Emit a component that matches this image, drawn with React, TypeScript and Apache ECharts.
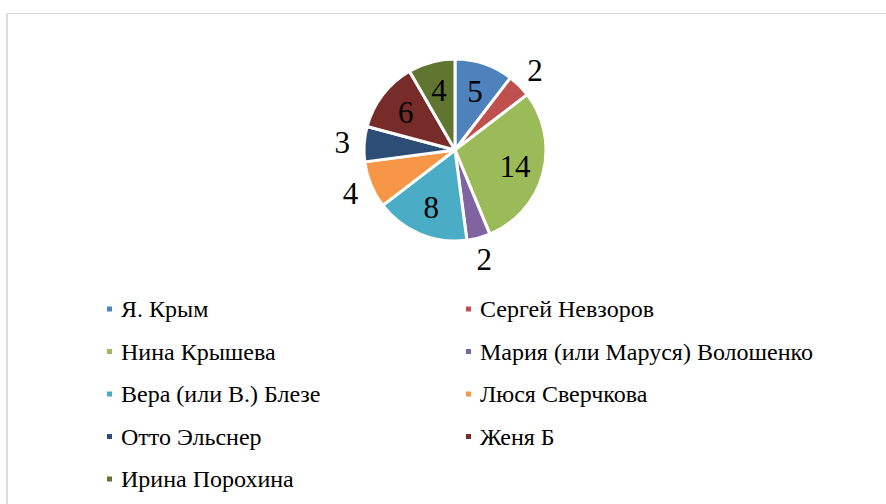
import React, { useEffect, useRef } from "react";
import * as echarts from "echarts";

const NAMES = [
  "Я. Крым",
  "Сергей Невзоров",
  "Нина Крышева",
  "Мария (или Маруся) Волошенко",
  "Вера (или В.) Блезе",
  "Люся Сверчкова",
  "Отто Эльснер",
  "Женя Б",
  "Ирина Порохина",
];
const VALUES = [5, 2, 14, 2, 8, 4, 3, 6, 4];
const COLORS = [
  "#4F81BD",
  "#C0504D",
  "#9BBB59",
  "#8064A2",
  "#4BACC6",
  "#F79646",
  "#2C4D75",
  "#772C2A",
  "#5F7530",
];
const LEFT_LEGEND = ["Я. Крым", "Нина Крышева", "Вера (или В.) Блезе", "Отто Эльснер", "Ирина Порохина"];
const RIGHT_LEGEND = ["Сергей Невзоров", "Мария (или Маруся) Волошенко", "Люся Сверчкова", "Женя Б"];
const OUTSIDE = new Set(["Сергей Невзоров", "Мария (или Маруся) Волошенко", "Люся Сверчкова", "Отто Эльснер"]);

const FONT = "Liberation Serif";

export default function App() {
  const ref = useRef<HTMLDivElement>(null);
  useEffect(() => {
    document.body.style.margin = "0";
    const chart = echarts.init(ref.current!, null, { renderer: "svg" });
    const center = [455, 150];
    const R = 91;
    const base = NAMES.map((n, i) => ({ name: n, value: VALUES[i], itemStyle: { color: COLORS[i] } }));
    const labelStyle = { fontFamily: FONT, fontSize: 31, color: "#000" };
    const legendText = { fontFamily: FONT, fontSize: 24, lineHeight: 24, color: "#000", padding: [0, 0, 0, 3] };
    const legendCommon = {
      orient: "vertical",
      icon: "rect",
      itemWidth: 7,
      itemHeight: 7,
      itemGap: 18.5,
      padding: 0,
      selectedMode: false,
      top: 297,
      textStyle: legendText,
    };
    chart.setOption({
      animation: false,
      backgroundColor: "#fff",
      color: COLORS,
      textStyle: { fontFamily: FONT },
      graphic: [
        { type: "line", shape: { x1: 7, y1: 13.5, x2: 886, y2: 13.5 }, style: { stroke: "#d9d9d9", lineWidth: 1 } },
        { type: "line", shape: { x1: 7, y1: 13, x2: 7, y2: 504 }, style: { stroke: "#dcdcdc", lineWidth: 2 } },
      ],
      legend: [
        { ...legendCommon, left: 105, data: LEFT_LEGEND },
        { ...legendCommon, left: 464, data: RIGHT_LEGEND },
      ],
      series: [
        {
          type: "pie",
          center,
          radius: [0, R],
          silent: true,
          avoidLabelOverlap: false,
          label: { show: false },
          labelLine: { show: false },
          itemStyle: { borderColor: "#fff", borderWidth: 3 },
          data: base,
        },
        {
          type: "pie",
          center,
          radius: [27, R],
          silent: true,
          avoidLabelOverlap: false,
          itemStyle: { color: "transparent", borderWidth: 0 },
          labelLine: { show: false },
          label: { show: true, position: "inside", formatter: "{c}", ...labelStyle },
          data: base.map((d) => ({
            name: d.name,
            value: d.value,
            itemStyle: { color: "transparent" },
            label: { show: !OUTSIDE.has(d.name) },
          })),
        },
        {
          type: "pie",
          center,
          radius: [R, 129],
          silent: true,
          avoidLabelOverlap: false,
          itemStyle: { color: "transparent", borderWidth: 0 },
          labelLine: { show: false },
          label: { show: true, position: "inside", formatter: "{c}", ...labelStyle },
          data: base.map((d) => ({
            name: d.name,
            value: d.value,
            itemStyle: { color: "transparent" },
            label: { show: OUTSIDE.has(d.name) },
          })),
        },
      ],
    });
    return () => chart.dispose();
  }, []);
  return (
    <div style={{ position: "fixed", left: 0, top: 0, width: 886, height: 504, overflow: "hidden", background: "#fff" }}>
      <div ref={ref} style={{ width: 886, height: 504 }} />
    </div>
  );
}
